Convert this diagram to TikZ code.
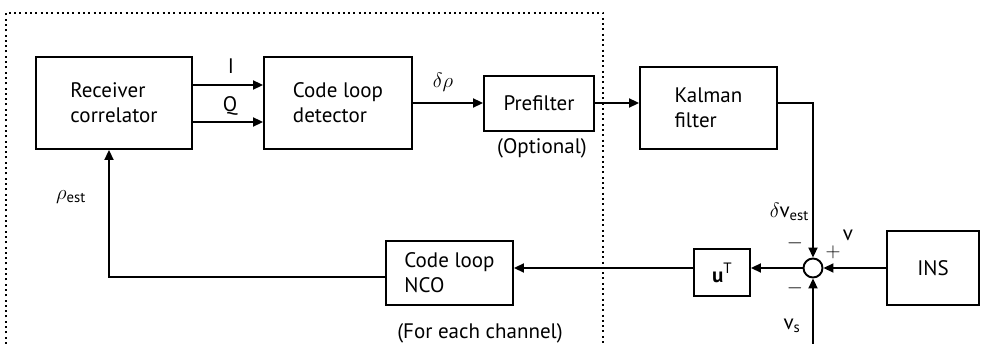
\documentclass[tikz,border=0pt]{standalone}
\usepackage{fontspec}
\usepackage{amsmath}
\setmainfont{PT Sans}
\usetikzlibrary{arrows.meta}
\begin{document}
\begin{tikzpicture}[x=1pt,y=-1pt,
  box/.style={draw, line width=1.9pt, inner sep=0pt, align=left},
  conn/.style={line width=1.9pt},
  arr/.style={conn, -{Triangle[length=10pt,width=9pt]}},
  lbl/.style={inner sep=0pt},
  dotbox/.style={line width=2.2pt, dash pattern=on 2pt off 3.3pt},
  font=\fontsize{21}{25}\selectfont]
\useasboundingbox (0,0) rectangle (985,344);
% dotted enclosure
\draw[dotbox] (6,344) -- (6,13) -- (603,13) -- (603,344);
% blocks
\node[box, minimum width=156pt, minimum height=92pt] (rc) at (114,103) {Receiver\\correlator};
\node[box, minimum width=148pt, minimum height=92pt] (cld) at (338,103) {Code loop\\detector};
\node[box, minimum width=110pt, minimum height=55pt] (pre) at (539,103.5) {Prefilter};
\node[box, minimum width=137pt, minimum height=82pt] (kal) at (708.5,108) {Kalman\\filter};
\node[box, minimum width=127pt, minimum height=64pt] (nco) at (449.5,273) {Code loop\\NCO};
\node[box, minimum width=56pt, minimum height=47pt] (ut) at (722,272.5) {\textbf{u}\raisebox{9pt}{\fontsize{15}{15}\selectfont T}};
\node[box, minimum width=92pt, minimum height=74pt] (ins) at (933,268) {INS};
\node[draw, circle, line width=1.9pt, inner sep=0pt, minimum size=19pt] (sum) at (813,268) {};
% helper coordinates
\coordinate (yI) at (0,85);
\coordinate (yQ) at (0,122);
\coordinate (ymid) at (0,103);
\coordinate (yfb) at (0,277);
\coordinate (xfb) at (109,0);
\coordinate (bot) at (813,344);
% connectors
\draw[arr] (rc.east |- yI) -- (cld.west |- yI);
\draw[arr] (rc.east |- yQ) -- (cld.west |- yQ);
\draw[arr] (cld.east |- ymid) -- (pre.west |- ymid);
\draw[arr] (pre.east |- ymid) -- (kal.west |- ymid);
\draw[arr] (kal.east |- ymid) -| (sum.north);
\draw[arr] (ins.west) -- (sum.east);
\draw[arr] (bot) -- (sum.south);
\draw[arr] (sum.west) -- (ut.east |- sum.west);
\draw[arr] (ut.west |- sum.west) -- (nco.east |- sum.west);
\draw[arr] (nco.west |- yfb) -| (xfb |- rc.south);
% labels
\node[lbl] (lI) at (231,66) {I};
\node[lbl] (lQ) at (230,106) {Q};
\node[lbl] (ldr) at (443,82) {$\delta\rho$};
\node[lbl] (lopt) at (542,148) {(Optional)};
\node[lbl] (lrho) at (71,197) {$\rho_{\text{est}}$};
\node[lbl, anchor=east] (ldv) at (809,212) {$\delta$v$_{\text{est}}$};
\node[lbl] (lm1) at (795,243) {$-$};
\node[lbl] (lp) at (833,252) {$+$};
\node[lbl] (lm2) at (795,288) {$-$};
\node[lbl] (lv) at (848,235) {v};
\node[lbl] (lvs) at (792,326) {v$_{\text{s}}$};
\node[lbl] (lch) at (480,333) {(For each channel)};
\end{tikzpicture}
\end{document}
